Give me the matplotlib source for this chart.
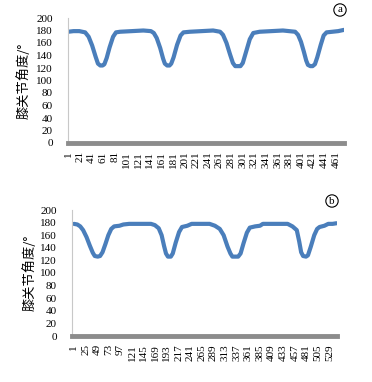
import numpy as np
import matplotlib
matplotlib.use("Agg")
import matplotlib.pyplot as plt

# knee joint angle curves (frame index, angle in degrees)
frames_a = [1, 10, 20, 30, 36, 42, 48, 52, 56, 60,
            63, 67, 72, 78, 83, 90, 110, 130, 143, 148,
            153, 159, 164, 167, 171, 175, 178, 182, 188, 194,
            199, 210, 230, 250, 262, 267, 273, 279, 284, 288,
            293, 297, 301, 307, 313, 319, 330, 350, 370, 391,
            396, 401, 406, 410, 413, 417, 421, 425, 429, 435,
            440, 445, 455, 465, 475]
angle_a = [178, 179, 179, 177, 170, 156, 138, 127, 124, 124,
           126, 136, 153, 170, 177, 178, 179, 180, 179, 176,
           168, 152, 135, 127, 124, 124, 127, 137, 157, 172,
           177, 178, 179, 180, 178, 173, 160, 142, 128, 123,
           123, 123, 128, 147, 166, 176, 178, 179, 180, 178,
           173, 162, 146, 132, 125, 123, 123, 126, 137, 157,
           172, 177, 178, 179, 181]

frames_b = [1, 8, 14, 20, 27, 34, 40, 44, 50, 55,
            60, 66, 72, 78, 84, 95, 103, 115, 140, 160,
            168, 176, 182, 187, 191, 195, 201, 205, 211, 218,
            224, 235, 244, 265, 281, 292, 302, 310, 318, 324,
            328, 340, 345, 351, 358, 364, 375, 385, 391, 420,
            442, 452, 461, 466, 470, 474, 480, 484, 490, 497,
            503, 508, 518, 526, 535, 543]
angle_b = [178, 177, 174, 168, 157, 143, 132, 127, 126, 127,
           133, 146, 160, 170, 174, 175, 177, 178, 178, 178,
           176, 171, 160, 143, 131, 126, 126, 131, 148, 165,
           173, 175, 178, 178, 178, 175, 170, 160, 142, 131,
           126, 126, 131, 147, 164, 172, 174, 175, 178, 178,
           178, 174, 168, 150, 133, 127, 126, 128, 142, 160,
           170, 173, 175, 178, 178, 179]

ticks_a = list(range(1, 462, 20))
ticks_b = list(range(1, 530, 24))
ylabel = "膝关节角度/°"

fig = plt.figure(figsize=(3.72, 3.82), dpi=100)
fig.patch.set_facecolor("white")

def panel(rect, x, y, ticks, xlim, letter, letter_xy, label_x):
    ax = fig.add_axes(rect)
    ax.plot(x, y, color="#4a7ebb", lw=3.0, solid_capstyle="round", solid_joinstyle="round")
    ax.set_xlim(*xlim)
    ax.set_ylim(0, 200)
    ax.set_yticks(range(0, 201, 20))
    ax.set_xticks(ticks)
    ax.set_xticklabels([str(t) for t in ticks], rotation=90, va="top")
    for lab in ax.get_xticklabels() + ax.get_yticklabels():
        lab.set_family(["Liberation Serif", "DejaVu Serif"])
        lab.set_fontsize(8)
    ax.tick_params(axis="y", length=0, pad=11)
    ax.tick_params(axis="x", length=0, pad=6)
    for s in ["top", "right"]:
        ax.spines[s].set_visible(False)
    ax.spines["left"].set_color("#c8c8c8")
    ax.spines["left"].set_linewidth(0.8)
    ax.spines["bottom"].set_color("#8c8c8c")
    ax.spines["bottom"].set_linewidth(3.5)
    ax.set_ylabel(ylabel, family=["Noto Sans CJK SC", "DejaVu Sans"], fontsize=9.5)
    ax.yaxis.set_label_coords(label_x, 0.5)
    fig.text(letter_xy[0], letter_xy[1], letter, family=["Liberation Serif"], fontsize=8,
             ha="center", va="center",
             bbox=dict(boxstyle="circle,pad=0.15", fc="white", ec="black", lw=0.8))
    return ax

panel([68 / 372, 1 - 143 / 382, 276 / 372, 125 / 382], frames_a, angle_a, ticks_a,
      (0.5, 475), "a", (340 / 372, 1 - 10 / 382), -0.135)
panel([72 / 372, 1 - 336 / 382, 265 / 372, 126 / 382], frames_b, angle_b, ticks_b,
      (-3, 544), "b", (332 / 372, 1 - 201 / 382), -0.135)

fig.savefig("out.png", dpi=100)
